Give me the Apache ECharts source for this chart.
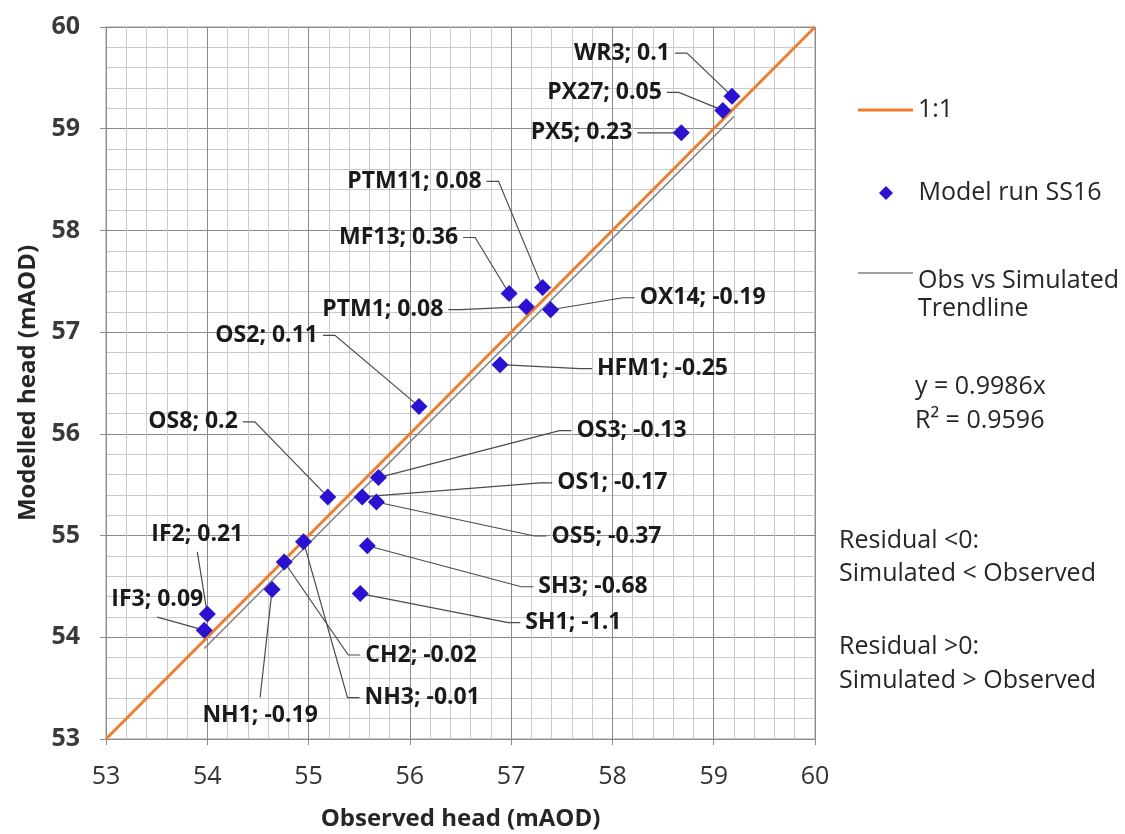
<!DOCTYPE html>
<html>
<head>
<meta charset="utf-8">
<title>Observed vs modelled head</title>
<script src="https://cdn.jsdelivr.net/npm/echarts@6/dist/echarts.min.js"></script>
<style>
  html, body { margin: 0; padding: 0; background: #fff; }
  #chart { width: 1125px; height: 834px; }
</style>
</head>
<body>
<div id="chart"></div>
<script>
const sites = ['WR3', 'PX27', 'PX5', 'PTM11', 'MF13', 'PTM1', 'OX14', 'HFM1', 'OS2', 'OS8',
               'OS3', 'OS1', 'OS5', 'SH3', 'SH1', 'CH2', 'NH3', 'NH1', 'IF2', 'IF3'];
const observed = [59.18, 59.09, 58.68, 57.31, 56.98, 57.15, 57.39, 56.89, 56.09, 55.19,
                  55.69, 55.53, 55.67, 55.58, 55.51, 54.76, 54.95, 54.64, 54.00, 53.97];
const modelled = [59.32, 59.18, 58.96, 57.44, 57.38, 57.25, 57.22, 56.68, 56.27, 55.38,
                  55.57, 55.38, 55.33, 54.90, 54.43, 54.74, 54.94, 54.47, 54.23, 54.07];
const residuals = [0.1, 0.05, 0.23, 0.08, 0.36, 0.08, -0.19, -0.25, 0.11, 0.2,
                   -0.13, -0.17, -0.37, -0.68, -1.1, -0.02, -0.01, -0.19, 0.21, 0.09];

// 1:1 reference line and fitted trendline end points
const oneToOneX = [53, 60];
const oneToOneY = [53, 60];
const trendX = [53.97, 59.2];
const trendY = [53.89, 59.12];

const axisMin = 53;
const axisMax = 60;

// leader elbow offset from each point in px, and which side the text sits
const leaderOffsets = [
    [-45, -43, 'l'], [-44, -18, 'l'], [-32, 0, 'l'], [-44, -106, 'l'], [-34, -56, 'l'],
    [-66, 3, 'l'], [72, -12, 'r'], [80, 4, 'r'], [-84, -71, 'l'], [-73, -75, 'l'],
    [181, -47, 'r'], [178, -14, 'r'], [158, 34, 'r'], [154, 41, 'r'], [148, 29, 'r'],
    [64, 93, 'r'], [44, 156, 'r'], [-12, 108, 'b'], [-10, -62, 'a'], [-47, -13, 'a']
];

const FONT = '"Open Sans", "Liberation Sans", sans-serif';
const chart = echarts.init(document.getElementById('chart'), null, { renderer: 'canvas' });

const points = observed.map((x, i) => [x, modelled[i]]);

function axis(extra) {
    return Object.assign({
        type: 'value',
        min: axisMin,
        max: axisMax,
        interval: 1,
        nameLocation: 'middle',
        nameTextStyle: { fontFamily: FONT, fontSize: 24, fontWeight: 'bold', color: '#262626' },
        axisLine: { show: true, lineStyle: { color: '#8c8c8c', width: 1 } },
        axisTick: { show: true, inside: false, length: 6, lineStyle: { color: '#8c8c8c' } },
        minorTick: { show: false, splitNumber: 5 },
        splitLine: { show: true, lineStyle: { color: '#8a8a8a', width: 1 } },
        minorSplitLine: { show: true, lineStyle: { color: '#cacaca', width: 1 } }
    }, extra);
}

function renderLabel(params, api) {
    const i = params.dataIndex;
    const p = api.coord([api.value(0), api.value(1)]);
    const off = leaderOffsets[i];
    const ex = p[0] + off[0];
    const ey = p[1] + off[1];
    const text = sites[i] + '; ' + residuals[i];
    let pts, tx, ty, align, valign;
    if (off[2] === 'l') {
        pts = [p, [ex, ey], [ex - 12, ey]]; tx = ex - 17; ty = ey; align = 'right'; valign = 'middle';
    } else if (off[2] === 'r') {
        pts = [p, [ex, ey], [ex + 12, ey]]; tx = ex + 17; ty = ey; align = 'left'; valign = 'middle';
    } else if (off[2] === 'a') {
        pts = [p, [ex, ey]]; tx = ex; ty = ey - 6; align = 'center'; valign = 'bottom';
    } else {
        pts = [p, [ex, ey]]; tx = ex; ty = ey + 6; align = 'center'; valign = 'top';
    }
    return {
        type: 'group',
        children: [
            { type: 'polyline', shape: { points: pts }, style: { stroke: '#4a4a4a', lineWidth: 1.2, fill: null } },
            {
                type: 'text', x: tx, y: ty,
                style: { text: text, align: align, verticalAlign: valign, fontFamily: FONT, fontSize: 23, fontWeight: 'bold', fill: '#1a1a1a' }
            }
        ]
    };
}

const legendText = { fontFamily: FONT, fontSize: 25, color: '#262626', lineHeight: 30 };
const noteStyle = { fontFamily: FONT, fontSize: 25, fill: '#262626' };

chart.setOption({
    backgroundColor: '#fff',
    animation: false,
    grid: {
        left: 106, top: 27, width: 709, height: 712,
        show: true, borderColor: '#9a9a9a', borderWidth: 1,
        containLabel: false, outerBoundsMode: 'none'
    },
    xAxis: axis({
        name: 'Observed head (mAOD)',
        nameGap: 68,
        axisLabel: { margin: 25, fontFamily: FONT, fontSize: 25, color: '#333' }
    }),
    yAxis: axis({
        name: 'Modelled head (mAOD)',
        nameGap: 64,
        nameRotate: 90,
        axisLabel: { margin: 26, fontFamily: FONT, fontSize: 25, fontWeight: 'bold', color: '#3a3a3a' }
    }),
    legend: [
        {
            data: [{ name: '1:1', icon: 'path://M0 0H55V3H0Z' }],
            left: 858, top: 95, padding: 0, symbolKeepAspect: true,
            itemWidth: 55, itemHeight: 14, textStyle: legendText, selectedMode: false
        },
        {
            data: [{ name: 'Model run SS16', icon: 'path://M7 0L14 7L7 14L0 7Z' }],
            left: 879, top: 178, padding: 0, symbolKeepAspect: true,
            itemWidth: 55, itemHeight: 14, textStyle: legendText, selectedMode: false
        },
        {
            data: [{ name: 'Obs vs Simulated Trendline', icon: 'path://M0 0H55V1.5H0Z' }],
            left: 858, top: 240, padding: 0, symbolKeepAspect: true,
            itemWidth: 55, itemHeight: 14, selectedMode: false,
            formatter: name => '{p| }\n{t|' + name.replace(' Trendline', '}\n{t|Trendline}'),
            textStyle: {
                fontFamily: FONT, fontSize: 25, color: '#262626',
                rich: {
                    p: { fontFamily: FONT, fontSize: 10, lineHeight: 43 },
                    t: { fontFamily: FONT, fontSize: 25, color: '#262626', lineHeight: 28 }
                }
            }
        }
    ],
    graphic: [
        { type: 'text', left: 915, top: 374, style: Object.assign({ text: 'y = 0.9986x' }, noteStyle) },
        { type: 'text', left: 915, top: 408, style: Object.assign({ text: 'R² = 0.9596' }, noteStyle) },
        { type: 'text', left: 839, top: 528, style: Object.assign({ text: 'Residual <0:' }, noteStyle) },
        { type: 'text', left: 839, top: 561, style: Object.assign({ text: 'Simulated < Observed' }, noteStyle) },
        { type: 'text', left: 839, top: 634, style: Object.assign({ text: 'Residual >0:' }, noteStyle) },
        { type: 'text', left: 839, top: 668, style: Object.assign({ text: 'Simulated > Observed' }, noteStyle) }
    ],
    series: [
        {
            type: 'custom',
            name: 'labels',
            data: points,
            renderItem: renderLabel,
            clip: false,
            silent: true,
            z: 1
        },
        {
            type: 'line',
            name: '1:1',
            data: oneToOneX.map((x, i) => [x, oneToOneY[i]]),
            symbol: 'none',
            lineStyle: { color: '#ED7D31', width: 3 },
            itemStyle: { color: '#ED7D31' },
            z: 3
        },
        {
            type: 'line',
            name: 'Obs vs Simulated Trendline',
            data: trendX.map((x, i) => [x, trendY[i]]),
            symbol: 'none',
            lineStyle: { color: '#7f7f7f', width: 1.5 },
            itemStyle: { color: '#7f7f7f' },
            z: 3
        },
        {
            type: 'scatter',
            name: 'Model run SS16',
            data: points,
            symbol: 'diamond',
            symbolSize: 17,
            itemStyle: { color: '#2a12d0', opacity: 1 },
            z: 4
        }
    ]
});
</script>
</body>
</html>
